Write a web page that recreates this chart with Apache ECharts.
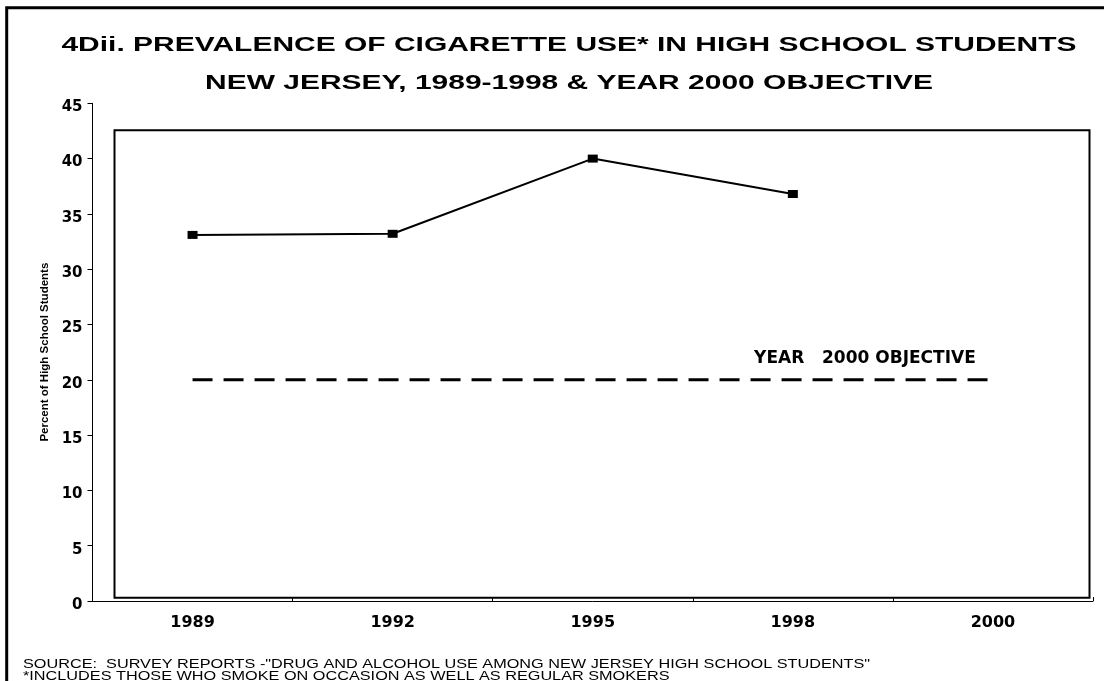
<!DOCTYPE html>
<html>
<head>
<meta charset="utf-8">
<script src="https://cdn.jsdelivr.net/npm/echarts@6/dist/echarts.min.js"></script>
<style>
  html, body { margin: 0; padding: 0; background: #fff; }
  #chart { width: 1104px; height: 681px; }
</style>
</head>
<body>
<div id="chart"></div>
<script>
// Survey years on the category axis
const years = ['1989', '1992', '1995', '1998', '2000'];
// Percent of high school students who smoke (no survey for 2000)
const prevalence = [33.1, 33.2, 40.0, 36.8, null];
// Year 2000 target level
const objective = [20, 20, 20, 20, 20];
const objectiveLabel = 'YEAR   2000 OBJECTIVE';
const yTicks = { min: 0, max: 45, interval: 5 };

const titleLines = [
  '4Dii. PREVALENCE OF CIGARETTE USE* IN HIGH SCHOOL STUDENTS',
  'NEW JERSEY, 1989-1998 & YEAR 2000 OBJECTIVE'
];
const footLines = [
  'SOURCE:  SURVEY REPORTS -"DRUG AND ALCOHOL USE AMONG NEW JERSEY HIGH SCHOOL STUDENTS"',
  '*INCLUDES THOSE WHO SMOKE ON OCCASION AS WELL AS REGULAR SMOKERS'
];

const SANS = '"Liberation Sans", Arial, Helvetica, sans-serif';
const WIDE = '"DejaVu Sans", Verdana, sans-serif';

const chart = echarts.init(document.getElementById('chart'), null, { renderer: 'canvas' });

chart.setOption({
  animation: false,
  backgroundColor: '#ffffff',
  grid: { left: 92.5, right: 11, top: 103.3, bottom: 80, containLabel: false },
  xAxis: {
    type: 'category',
    data: years,
    boundaryGap: true,
    axisLine: { lineStyle: { color: '#000', width: 1 } },
    axisTick: { show: true, inside: true, length: 4, lineStyle: { color: '#000' } },
    axisLabel: {
      margin: 14,
      fontFamily: WIDE,
      fontWeight: 'bold',
      fontSize: 16,
      color: '#000'
    },
    splitLine: { show: false }
  },
  yAxis: {
    type: 'value',
    min: yTicks.min,
    max: yTicks.max,
    interval: yTicks.interval,
    name: 'Percent of High School Students',
    nameLocation: 'middle',
    nameGap: 40,
    nameRotate: 90,
    nameTextStyle: {
      fontFamily: SANS,
      fontWeight: 'bold',
      fontSize: 11.5,
      color: '#000'
    },
    axisLine: { show: true, lineStyle: { color: '#000', width: 1 } },
    axisTick: { show: true, length: 5, lineStyle: { color: '#000' } },
    axisLabel: {
      margin: 10,
      verticalAlign: 'top',
      lineHeight: 8,
      fontFamily: WIDE,
      fontWeight: 'bold',
      fontSize: 15,
      color: '#000'
    },
    splitLine: { show: false }
  },
  graphic: [
    // page frame (left and top edges fall inside the view)
    {
      type: 'rect', silent: true, z: 0,
      shape: { x: 6.7, y: 7.7, width: 1200, height: 800 },
      style: { fill: 'none', stroke: '#000', lineWidth: 3 }
    },
    // plot area box
    {
      type: 'rect', silent: true, z: 1,
      shape: { x: 114.5, y: 130.3, width: 975, height: 467.4 },
      style: { fill: '#fff', stroke: '#000', lineWidth: 2 }
    },
    // two-line heading, widened to the page
    {
      type: 'text', silent: true, z: 5,
      x: 569, y: 45, scaleX: 1.427,
      style: {
        text: titleLines[0],
        font: 'bold 21px ' + SANS,
        textAlign: 'center', textVerticalAlign: 'middle',
        fill: '#000'
      }
    },
    {
      type: 'text', silent: true, z: 5,
      x: 569, y: 83, scaleX: 1.427,
      style: {
        text: titleLines[1],
        font: 'bold 21px ' + SANS,
        textAlign: 'center', textVerticalAlign: 'middle',
        fill: '#000'
      }
    },
    // source and footnote
    {
      type: 'text', silent: true, z: 5,
      x: 23, y: 664, scaleX: 1.25,
      style: {
        text: footLines[0],
        font: '13px ' + SANS,
        textAlign: 'left', textVerticalAlign: 'middle',
        fill: '#000'
      }
    },
    {
      type: 'text', silent: true, z: 5,
      x: 23, y: 676, scaleX: 1.25,
      style: {
        text: footLines[1],
        font: '13px ' + SANS,
        textAlign: 'left', textVerticalAlign: 'middle',
        fill: '#000'
      }
    }
  ],
  series: [
    {
      name: 'Prevalence',
      type: 'line',
      data: prevalence,
      z: 10,
      symbol: 'rect',
      symbolSize: [10, 8],
      itemStyle: { color: '#000' },
      lineStyle: { color: '#000', width: 2 },
      connectNulls: false
    },
    {
      name: 'Objective',
      type: 'line',
      z: 10,
      symbol: 'circle',
      symbolSize: 0.1,
      showSymbol: true,
      itemStyle: { color: 'rgba(0,0,0,0)' },
      data: objective.map((v, i) => i === objective.length - 1
        ? {
            value: v,
            label: {
              show: true,
              formatter: objectiveLabel,
              position: 'top',
              distance: 0,
              offset: [-128, -13],
              fontFamily: WIDE,
              fontWeight: 'bold',
              fontSize: 17,
              color: '#000'
            }
          }
        : v),
      lineStyle: { color: '#000', width: 3, type: [20, 11] }
    }
  ]
});
</script>
</body>
</html>
